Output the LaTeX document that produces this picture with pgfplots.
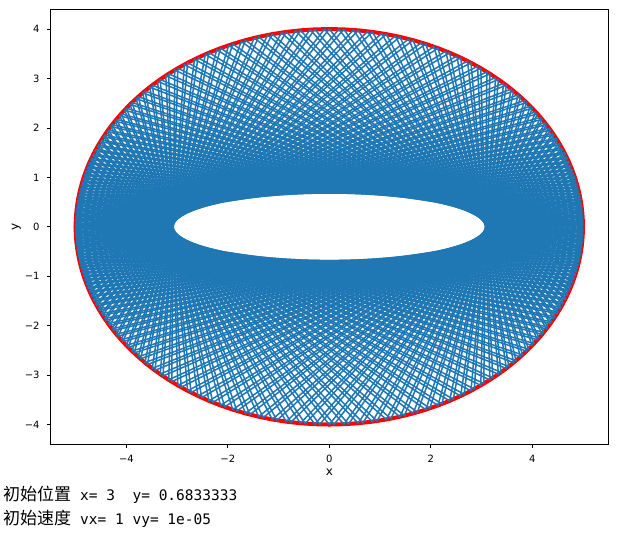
\documentclass[border=0pt]{standalone}
\usepackage{fontspec}
\setmainfont{DejaVu Sans}
\newfontfamily\cjk{Noto Sans CJK SC}
\newfontfamily\mono{DejaVu Sans Mono}
\usepackage{pgfplots}
\pgfplotsset{compat=1.18}
\usepackage{pgfplotstable}
\definecolor{c0}{HTML}{1F77B4}

% boundary points (first quadrant)
\pgfplotstableread{
X Y
0 4
0.2855 3.9935
0.5691 3.9740
0.8492 3.9419
1.1241 3.8976
1.3921 3.8418
1.6520 3.7754
1.9024 3.6992
2.1425 3.6142
2.3714 3.5215
2.5885 3.4223
2.7934 3.3175
2.9860 3.2084
3.1661 3.0959
3.3340 2.9810
3.4899 2.8646
3.6340 2.7474
3.7670 2.6303
3.8892 2.5139
4.0013 2.3987
4.1038 2.2852
4.1973 2.1738
4.2824 2.0647
4.3598 1.9584
4.4299 1.8549
4.4934 1.7544
4.5509 1.6569
4.6028 1.5625
4.6495 1.4713
4.6916 1.3831
4.7294 1.2980
4.7634 1.2158
4.7939 1.1365
4.8212 1.0600
4.8457 0.9862
4.8675 0.9148
4.8869 0.8458
4.9042 0.7791
4.9196 0.7145
4.9332 0.6518
4.9452 0.5909
4.9557 0.5316
4.9648 0.4738
4.9727 0.4174
4.9795 0.3621
4.9852 0.3079
4.9899 0.2545
4.9936 0.2018
4.9965 0.1497
4.9985 0.0980
4.9996 0.0466
5 0
}\Q

% trajectory A (bounce points in order)
\pgfplotstableread{
x y
5 0
-4.551 1.657
0.286 -3.994
4.430 1.855
-4.999 -0.098
4.650 -1.471
-0.849 3.942
-4.282 -2.065
4.994 0.202
-4.729 1.298
1.392 -3.842
4.104 2.285
-4.985 -0.308
4.794 -1.137
-1.902 3.699
-3.889 -2.514
4.973 0.417
-4.846 0.986
2.371 -3.522
3.634 2.747
-4.956 -0.532
4.887 -0.846
-2.793 3.318
-3.334 -2.981
4.933 0.652
-4.920 0.715
3.166 -3.096
2.986 3.208
-4.904 -0.779
4.945 -0.591
-3.490 2.865
-2.589 -3.422
4.868 0.915
-4.965 0.474
3.767 -2.630
2.143 3.614
-4.821 -1.060
4.980 -0.362
-4.001 2.399
-1.652 -3.775
4.763 1.216
-4.990 0.255
4.197 -2.174
1.124 3.898
-4.692 -1.383
4.997 -0.150
-4.360 1.958
-0.569 -3.974
4.603 1.563
-5.000 0.047
4.493 -1.754
0 4
-4.493 -1.754
5.000 0.047
-4.603 1.563
0.569 -3.974
4.360 1.958
-4.997 -0.150
4.692 -1.383
-1.124 3.898
-4.197 -2.174
4.990 0.255
-4.763 1.216
1.652 -3.775
4.001 2.399
-4.980 -0.362
4.821 -1.060
-2.143 3.614
-3.767 -2.630
4.965 0.474
-4.868 0.915
2.589 -3.422
3.490 2.865
-4.945 -0.591
4.904 -0.779
-2.986 3.208
-3.166 -3.096
4.920 0.715
-4.933 0.652
3.334 -2.981
2.793 3.318
-4.887 -0.846
4.956 -0.532
-3.634 2.747
-2.371 -3.522
4.846 0.986
-4.973 0.417
3.889 -2.514
1.902 3.699
-4.794 -1.137
4.985 -0.308
-4.104 2.285
-1.392 -3.842
4.729 1.298
-4.994 0.202
4.282 -2.065
0.849 3.942
-4.650 -1.471
4.999 -0.098
-4.430 1.855
-0.286 -3.994
4.551 1.657
-5 0
4.551 -1.657
-0.286 3.994
-4.430 -1.855
4.999 0.098
-4.650 1.471
0.849 -3.942
4.282 2.065
-4.994 -0.202
4.729 -1.298
-1.392 3.842
-4.104 -2.285
4.985 0.308
-4.794 1.137
1.902 -3.699
3.889 2.514
-4.973 -0.417
4.846 -0.986
-2.371 3.522
-3.634 -2.747
4.956 0.532
-4.887 0.846
2.793 -3.318
3.334 2.981
-4.933 -0.652
4.920 -0.715
-3.166 3.096
-2.986 -3.208
4.904 0.779
-4.945 0.591
3.490 -2.865
2.589 3.422
-4.868 -0.915
4.965 -0.474
-3.767 2.630
-2.143 -3.614
4.821 1.060
-4.980 0.362
4.001 -2.399
1.652 3.775
-4.763 -1.216
4.990 -0.255
-4.197 2.174
-1.124 -3.898
4.692 1.383
-4.997 0.150
4.360 -1.958
0.569 3.974
-4.603 -1.563
5.000 -0.047
-4.493 1.754
0 -4
4.493 1.754
-5.000 -0.047
4.603 -1.563
-0.569 3.974
-4.360 -1.958
4.997 0.150
-4.692 1.383
1.124 -3.898
4.197 2.174
-4.990 -0.255
4.763 -1.216
-1.652 3.775
-4.001 -2.399
4.980 0.362
-4.821 1.060
2.143 -3.614
3.767 2.630
-4.965 -0.474
4.868 -0.915
-2.589 3.422
-3.490 -2.865
4.945 0.591
-4.904 0.779
2.986 -3.208
3.166 3.096
-4.920 -0.715
4.933 -0.652
-3.334 2.981
-2.793 -3.318
4.887 0.846
-4.956 0.532
3.634 -2.747
2.371 3.522
-4.846 -0.986
4.973 -0.417
-3.889 2.514
-1.902 -3.699
4.794 1.137
-4.985 0.308
4.104 -2.285
1.392 3.842
-4.729 -1.298
4.994 -0.202
-4.282 2.065
-0.849 -3.942
4.650 1.471
-4.999 0.098
4.430 -1.855
0.286 3.994
-4.551 -1.657
5 0
}\traj

% trajectory B (later bounces, shifted phase)
\pgfplotstableread{
x y
5.000 0.016
-4.568 1.625
0.380 -3.988
4.407 1.889
-4.998 -0.115
4.664 -1.442
-0.941 3.928
-4.254 -2.101
4.992 0.219
-4.741 1.271
1.479 -3.821
4.070 2.323
-4.983 -0.326
4.803 -1.111
-1.982 3.672
-3.849 -2.553
4.970 0.436
-4.853 0.962
2.444 -3.489
3.586 2.787
-4.952 -0.551
4.893 -0.824
-2.858 3.282
-3.279 -3.020
4.929 0.673
-4.924 0.694
3.223 -3.058
2.922 3.246
-4.898 -0.801
4.949 -0.571
-3.538 2.826
-2.516 -3.456
4.860 0.939
-4.967 0.455
3.808 -2.592
2.062 3.644
-4.812 -1.086
4.981 -0.344
-4.036 2.361
-1.565 -3.799
4.752 1.243
-4.991 0.237
4.226 -2.137
1.033 3.914
-4.678 -1.413
4.997 -0.132
-4.383 1.924
-0.475 -3.982
4.586 1.594
-5.000 0.031
4.513 -1.722
-0.095 3.999
-4.472 -1.788
4.999 0.064
-4.618 1.532
0.663 -3.965
4.334 1.994
-4.996 -0.167
4.704 -1.355
-1.213 3.880
-4.166 -2.211
4.988 0.272
-4.774 1.189
1.735 -3.751
3.964 2.437
-4.977 -0.381
4.829 -1.035
-2.219 3.584
-3.723 -2.670
4.962 0.493
-4.874 0.892
2.657 -3.388
3.438 2.904
-4.941 -0.611
4.909 -0.758
-3.046 3.172
-3.106 -3.134
4.915 0.736
-4.937 0.632
3.386 -2.943
2.725 3.353
-4.880 -0.869
4.959 -0.512
-3.679 2.709
-2.295 -3.553
4.838 1.011
-4.975 0.399
3.927 -2.476
1.819 3.726
-4.784 -1.163
4.987 -0.290
-4.135 2.248
-1.303 -3.862
4.717 1.326
-4.995 0.184
4.308 -2.029
0.756 3.954
-4.634 -1.502
4.999 -0.081
-4.451 1.821
-0.190 -3.997
4.532 1.689
-5.000 -0.016
4.568 -1.625
-0.380 3.988
-4.407 -1.889
4.998 0.115
-4.664 1.442
0.941 -3.928
4.254 2.101
-4.992 -0.219
4.741 -1.271
-1.479 3.821
-4.070 -2.323
4.983 0.326
-4.803 1.111
1.982 -3.672
3.849 2.553
-4.970 -0.436
4.853 -0.962
-2.444 3.489
-3.586 -2.787
4.952 0.551
-4.893 0.824
2.858 -3.282
3.279 3.020
-4.929 -0.673
4.924 -0.694
-3.223 3.058
-2.922 -3.246
4.898 0.801
-4.949 0.571
3.538 -2.826
2.516 3.456
-4.860 -0.939
4.967 -0.455
-3.808 2.592
-2.062 -3.644
4.812 1.086
-4.981 0.344
4.036 -2.361
1.565 3.799
-4.752 -1.243
4.991 -0.237
-4.226 2.137
-1.033 -3.914
4.678 1.413
-4.997 0.132
4.383 -1.924
0.475 3.982
-4.586 -1.594
5.000 -0.031
-4.513 1.722
0.095 -3.999
4.472 1.788
-4.999 -0.064
4.618 -1.532
-0.663 3.965
-4.334 -1.994
4.996 0.167
-4.704 1.355
1.213 -3.880
4.166 2.211
-4.988 -0.272
4.774 -1.189
-1.735 3.751
-3.964 -2.437
4.977 0.381
-4.829 1.035
2.219 -3.584
3.723 2.670
-4.962 -0.493
4.874 -0.892
-2.657 3.388
-3.438 -2.904
4.941 0.611
-4.909 0.758
3.046 -3.172
3.106 3.134
-4.915 -0.736
4.937 -0.632
-3.386 2.943
-2.725 -3.353
4.880 0.869
-4.959 0.512
3.679 -2.709
2.295 3.553
-4.838 -1.011
4.975 -0.399
-3.927 2.476
-1.819 -3.726
4.784 1.163
-4.987 0.290
4.135 -2.248
1.303 3.862
-4.717 -1.326
4.995 -0.184
-4.308 2.029
-0.756 -3.954
4.634 1.502
-4.999 0.081
4.451 -1.821
0.190 3.997
-4.532 -1.689
5.000 0.016
}\trajb

\begin{document}
\begin{tikzpicture}
\useasboundingbox (0,0) rectangle (624bp,535bp);
\begin{axis}[
  at={(50.3bp,90.7bp)}, anchor=south west,
  scale only axis, width=558bp, height=435bp,
  xmin=-5.5, xmax=5.5, ymin=-4.4, ymax=4.4,
  xtick={-4,-2,0,2,4}, xticklabels={−4,−2,0,2,4},
  ytick={-4,-3,-2,-1,0,1,2,3,4}, yticklabels={−4,−3,−2,−1,0,1,2,3,4},
  xtick pos=bottom, ytick pos=left,
  tick align=outside, major tick length=3.5bp,
  tick style={black, line width=0.8bp},
  axis line style={black, line width=0.8bp},
  ticklabel style={font=\fontsize{10bp}{12bp}\selectfont, inner sep=0pt},
  xticklabel style={anchor=north, yshift=-7bp},
  yticklabel style={anchor=east, xshift=-7bp},
  xlabel={x}, ylabel={y},
  label style={font=\fontsize{12bp}{14bp}\selectfont, inner sep=0pt},
  xlabel style={at={(axis description cs:0.5,0)}, anchor=center, yshift=-27.7bp},
  ylabel style={at={(axis description cs:0,0.5)}, anchor=center, yshift=34bp},
]
\addplot[red, line width=4bp, line cap=round, line join=round] table[x=X, y=Y] {\Q};
\addplot[red, line width=4bp, line cap=round, line join=round] table[x expr=-\thisrow{X}, y=Y] {\Q};
\addplot[red, line width=4bp, line cap=round, line join=round] table[x=X, y expr=-\thisrow{Y}] {\Q};
\addplot[red, line width=4bp, line cap=round, line join=round] table[x expr=-\thisrow{X}, y expr=-\thisrow{Y}] {\Q};
\addplot[c0, line width=1.5bp, line join=round] table[x=x, y=y] {\traj};
\addplot[c0, line width=1.5bp, line join=round] table[x=x, y=y] {\trajb};
\end{axis}
\node[anchor=base west, inner sep=0pt] at (3bp,35bp) {\fontsize{17bp}{17bp}\cjk 初始位置};
\node[anchor=base west, inner sep=0pt] at (80bp,35bp) {\fontsize{14.5bp}{14.5bp}\mono x=\ 3\ \ y=\ 0.6833333};
\node[anchor=base west, inner sep=0pt] at (3bp,11bp) {\fontsize{17bp}{17bp}\cjk 初始速度};
\node[anchor=base west, inner sep=0pt] at (80bp,11bp) {\fontsize{14.5bp}{14.5bp}\mono vx=\ 1\ vy=\ 1e-05};
\end{tikzpicture}
\end{document}
